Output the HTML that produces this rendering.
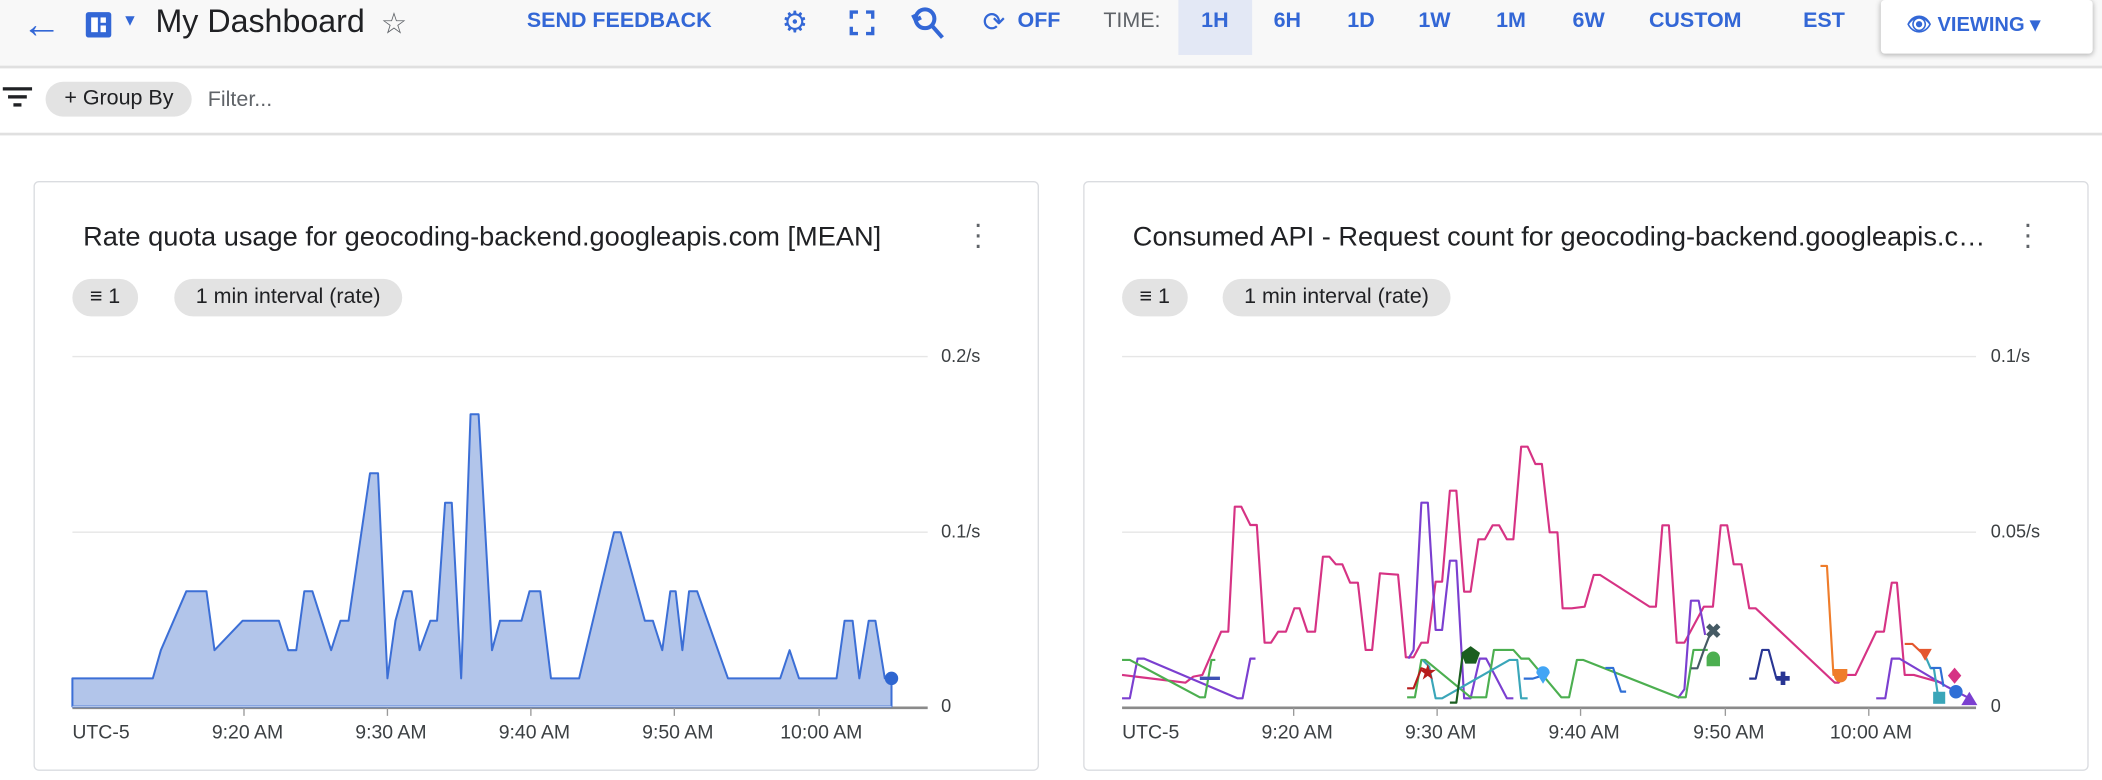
<!DOCTYPE html>
<html><head><meta charset="utf-8"><style>
html,body{margin:0;padding:0;width:2102px;height:780px;overflow:hidden;background:#fff;font-family:"Liberation Sans",Arial,sans-serif}
#w{position:absolute;left:0;top:0;width:1568px;height:582px;transform:scale(1.3406);transform-origin:0 0}
.a{position:absolute;white-space:nowrap}
.blue{color:#3367d6}
.top{position:absolute;left:0;top:0;width:1568px;height:49px;background:#f8f8f8;border-bottom:2px solid #e0e0e0}
.fr{position:absolute;left:0;top:51px;width:1568px;height:48px;border-bottom:2px solid #e0e0e0}
.card{position:absolute;top:135px;width:748px;height:438px;border:1px solid #dadce0;border-radius:4px;background:#fff}
.chip{position:absolute;height:28px;line-height:28px;background:#e3e3e3;border-radius:14px;font-size:16px;color:#202124;padding:0 16px}
.t{font-size:20.3px;color:#202124}
.tk{font-size:13.5px;color:#3c4043}
.tx{font-size:14.5px;color:#3c4043}
.nav{font-size:16px;top:7px;font-weight:bold}
</style></head><body><div id="w">
<div class="top"></div>
<div class="a blue" style="left:16px;top:2px;font-size:30px;font-weight:bold">&#8592;</div>
<svg class="a" style="left:63px;top:8px" width="22" height="22"><rect x="1" y="1" width="19" height="19" rx="2" fill="#3367d6"/><rect x="5" y="5" width="5" height="11" fill="#fff"/><rect x="12" y="5" width="4" height="4" fill="#fff"/><rect x="12" y="11" width="4" height="5" fill="#fff"/></svg>
<div class="a blue" style="left:91px;top:8px;font-size:12px">&#9660;</div>
<div class="a" style="left:116px;top:3px;font-size:24px;color:#202124">My Dashboard</div>
<div class="a" style="left:284px;top:5px;font-size:22px;color:#5f6368">&#9734;</div>
<div class="a blue nav" style="left:393px">SEND FEEDBACK</div>
<div class="a blue" style="left:583px;top:4px;font-size:22px">&#9881;</div>
<svg class="a" style="left:633px;top:7px" width="20" height="20" fill="none" stroke="#3367d6" stroke-width="2.5"><path d="M2 7V2h5M13 2h5v5M18 13v5h-5M7 18H2v-5"/></svg>
<svg class="a" style="left:677px;top:3px" width="30" height="28" fill="none" stroke="#3367d6" stroke-width="3"><circle cx="13" cy="11" r="7"/><path d="M18 16l8 9M4 8l2 4 4-2"/></svg>
<div class="a blue" style="left:733px;top:4px;font-size:20px">&#10227;</div>
<div class="a blue nav" style="left:759px">OFF</div>
<div class="a nav" style="left:823px;color:#5f6368;font-weight:normal">TIME:</div>
<div class="a" style="left:879px;top:0;width:55px;height:41px;background:#e3e8f5"></div>
<div class="a blue nav" style="left:896px">1H</div>
<div class="a blue nav" style="left:950px">6H</div>
<div class="a blue nav" style="left:1005px">1D</div>
<div class="a blue nav" style="left:1058px">1W</div>
<div class="a blue nav" style="left:1116px">1M</div>
<div class="a blue nav" style="left:1173px">6W</div>
<div class="a blue nav" style="left:1230px">CUSTOM</div>
<div class="a blue nav" style="left:1345px">EST</div>
<div class="a" style="left:1403px;top:0;width:158px;height:40px;background:#fff;box-shadow:0 1px 4px rgba(0,0,0,.3);border-radius:3px"></div>
<div class="a blue nav" style="left:1422px;top:9px;font-size:15px">&#128065;&#xFE0E; VIEWING &#9662;</div>
<div class="fr"></div>
<svg class="a" style="left:2px;top:65px" width="22" height="16" fill="#202124"><rect x="0" y="0" width="22" height="2.5"/><rect x="4" y="6" width="14" height="2.5"/><rect x="8" y="12" width="6" height="2.5"/></svg>
<div class="chip" style="left:34px;top:61px;height:26px;line-height:26px;padding:0 14px;font-size:16px">+ Group By</div>
<div class="a" style="left:155px;top:66px;font-size:16px;color:#5f6368">Filter...</div>

<div class="card" style="left:25px"></div>
<div class="card" style="left:808px"></div>
<div class="a t" style="left:62px;top:166px">Rate quota usage for geocoding-backend.googleapis.com [MEAN]</div>
<div class="a t" style="left:845px;top:166px;width:636px;overflow:hidden;text-overflow:ellipsis">Consumed API - Request count for geocoding-backend.googleapis.com</div>
<div class="a" style="left:726px;top:163px;font-size:22px;color:#5f6368;line-height:8px">·<br>·<br>·</div>
<div class="a" style="left:1509px;top:163px;font-size:22px;color:#5f6368;line-height:8px">·<br>·<br>·</div>
<div class="chip" style="left:54px;top:208px;padding:0 13px">&#8801; 1</div>
<div class="chip" style="left:130px;top:208px">1 min interval (rate)</div>
<div class="chip" style="left:837px;top:208px;padding:0 13px">&#8801; 1</div>
<div class="chip" style="left:912px;top:208px">1 min interval (rate)</div>

<svg class="a" style="left:0;top:0" width="1568" height="582">
<g stroke="#e6e6e6" stroke-width="1"><path d="M54 266H692M54 397H692M837 266H1474M837 397H1474"/></g>
<g stroke="#8a8a8a" stroke-width="2"><path d="M54 528H692M837 528H1474"/></g>
<g stroke="#9a9a9a"><path d="M182 528v6M289 528v6M396 528v6M503 528v6M611 528v6M965 528v6M1072 528v6M1179 528v6M1287 528v6M1394 528v6"/></g>
<polygon fill="#b2c5ea" stroke="#3c6fd6" stroke-width="1.5" stroke-linejoin="round" points="54,527 54,506 114,506 120,485 139,441 154,441 160,485 181,463 208,463 215,485 221,485 227,441 233,441 247,485 254,463 260,463 276,353 282,353 289,506 295,463 301,441 307,441 313,485 321,463 326,463 332,375 337,375 344,506 351,309 357,309 367,485 373,463 389,463 395,441 403,441 411,506 432,506 458,397 463,397 481,463 487,463 494,485 500,441 504,441 509,485 514,441 520,441 543,506 582,506 589,485 596,506 624,506 630,463 636,463 641,506 648,463 653,463 660,506 665,506 665,527"/>
<path d="M54 527H665" stroke="#b2c5ea" stroke-width="1"/>
<circle cx="665" cy="506" r="5" fill="#2f66d0"/>
<g transform="matrix(0.4833 0 0 0.2486 807 313.3)" fill="none" stroke-width="1.6" stroke-linejoin="round">
<polyline vector-effect="non-scaling-stroke" stroke="#d63384" points="62,765 160,788 172,770 186,765 215,635 226,635 236,260 246,260 260,315 270,315 282,668 292,668 303,635 315,635 328,565 336,565 348,635 360,635 372,410 382,410 392,433 402,433 414,488 426,488 438,690 448,690 460,460 472,462 488,464 500,712 512,712 524,668 534,668 546,485 556,485 568,212 578,212 590,515 600,515 612,358 622,358 634,316 644,316 656,358 666,358 678,80 688,80 700,132 710,132 722,337 734,337 742,565 756,565 776,560 790,465 800,465 876,560 886,560 896,316 906,316 918,668 930,668 960,560 974,560 986,316 996,316 1006,433 1018,433 1030,565 1040,565 1162,788 1168,788 1180,765 1194,765 1226,635 1238,635 1250,488 1258,488 1270,765 1284,765 1330,790"/>
<polyline vector-effect="non-scaling-stroke" stroke="#7b3fd0" points="62,835 74,835 86,716 96,716 240,835 248,835 260,716 268,716"/>
<polyline vector-effect="non-scaling-stroke" stroke="#7b3fd0" points="504,716 512,690 524,248 534,248 546,630 556,630 568,422 578,422 590,835 600,835 614,716 624,716 656,835 666,835"/>
<polyline vector-effect="non-scaling-stroke" stroke="#7b3fd0" points="920,835 930,808 940,542 952,542 962,645"/>
<polyline vector-effect="non-scaling-stroke" stroke="#7b3fd0" points="1226,835 1240,835 1250,716 1262,716 1335,800 1370,835"/>
<polyline vector-effect="non-scaling-stroke" stroke="#4caf50" points="62,720 74,720 182,832 190,832 200,720 206,720"/>
<polyline vector-effect="non-scaling-stroke" stroke="#4caf50" points="502,832 514,832 524,720 530,720 600,832 614,832 624,832 636,690 666,690 678,716 690,716 740,832 752,832 764,720 774,720 920,832 932,832 944,690 954,690 966,690"/>
<polyline vector-effect="non-scaling-stroke" stroke="#3aa6b9" points="526,720 536,740 546,835 556,835 660,720 672,720 678,835 688,835"/>
<polyline vector-effect="non-scaling-stroke" stroke="#3aa6b9" points="1300,700 1310,745 1315,745 1322,835"/>
<polyline vector-effect="non-scaling-stroke" stroke="#2f6fd6" points="682,776 696,776 712,766"/>
<polyline vector-effect="non-scaling-stroke" stroke="#2f6fd6" points="808,744 820,744 832,815 840,815"/>
<polyline vector-effect="non-scaling-stroke" stroke="#2f6fd6" points="1310,744 1325,744 1330,800"/>
<polyline vector-effect="non-scaling-stroke" stroke="#1b5e20" points="568,848 578,848 588,700 600,700"/>
<polyline vector-effect="non-scaling-stroke" stroke="#b71c1c" points="502,805 512,805 524,745 534,752"/>
<polyline vector-effect="non-scaling-stroke" stroke="#455a64" points="940,745 950,745 960,690 972,630"/>
<polyline vector-effect="non-scaling-stroke" stroke="#283593" points="1030,776 1040,776 1050,690 1060,690 1072,776 1082,776"/>
<polyline vector-effect="non-scaling-stroke" stroke="#ef7d2b" points="1140,438 1150,438 1160,765 1172,765"/>
<polyline vector-effect="non-scaling-stroke" stroke="#e4572e" points="1270,672 1282,672 1300,705"/>
</g>
<path d="M895 506H910" stroke="#3f51b5" stroke-width="2.5"/>
<text x="1065" y="507" font-size="16" fill="#b71c1c" text-anchor="middle">&#9733;</text>
<polygon points="1097,482 1104,487 1101,495 1093,495 1090,487" fill="#1b5e20"/>
<path d="M1151,510 L1146,502 A5,5 0 1 1 1156,502 Z" fill="#42a5f5"/>
<text x="1278" y="476" font-size="15" font-weight="bold" fill="#455a64" text-anchor="middle">&#10006;</text>
<path d="M1273,497 V491 A5,5 0 0 1 1283,491 V497 Z" fill="#4caf50"/>
<path d="M1325 506h10M1330 501v10" stroke="#283593" stroke-width="3.5"/>
<path d="M1368,499 H1378 V504 A5,5 0 0 1 1368,504 Z" fill="#ef7d2b"/>
<polygon points="1431,484 1441,484 1436,493" fill="#e4572e"/>
<polygon points="1458,498 1463,504 1458,510 1453,504" fill="#d63384"/>
<circle cx="1459" cy="516" r="5" fill="#2f6fd6"/>
<rect x="1442" y="516" width="9" height="9" fill="#3aa6b9"/>
<polygon points="1469,516 1475,526 1463,526" fill="#7b3fd0"/>
</svg>
<div class="a tk" style="left:702px;top:258px">0.2/s</div>
<div class="a tk" style="left:702px;top:389px">0.1/s</div>
<div class="a tk" style="left:702px;top:519px">0</div>
<div class="a tk" style="left:1485px;top:258px">0.1/s</div>
<div class="a tk" style="left:1485px;top:389px">0.05/s</div>
<div class="a tk" style="left:1485px;top:519px">0</div>
<div class="a tx" style="left:54px;top:539px">UTC-5</div>
<div class="a tx" style="left:158px;top:539px">9:20 AM</div>
<div class="a tx" style="left:265px;top:539px">9:30 AM</div>
<div class="a tx" style="left:372px;top:539px">9:40 AM</div>
<div class="a tx" style="left:479px;top:539px">9:50 AM</div>
<div class="a tx" style="left:582px;top:539px">10:00 AM</div>
<div class="a tx" style="left:837px;top:539px">UTC-5</div>
<div class="a tx" style="left:941px;top:539px">9:20 AM</div>
<div class="a tx" style="left:1048px;top:539px">9:30 AM</div>
<div class="a tx" style="left:1155px;top:539px">9:40 AM</div>
<div class="a tx" style="left:1263px;top:539px">9:50 AM</div>
<div class="a tx" style="left:1365px;top:539px">10:00 AM</div>
</div></body></html>
